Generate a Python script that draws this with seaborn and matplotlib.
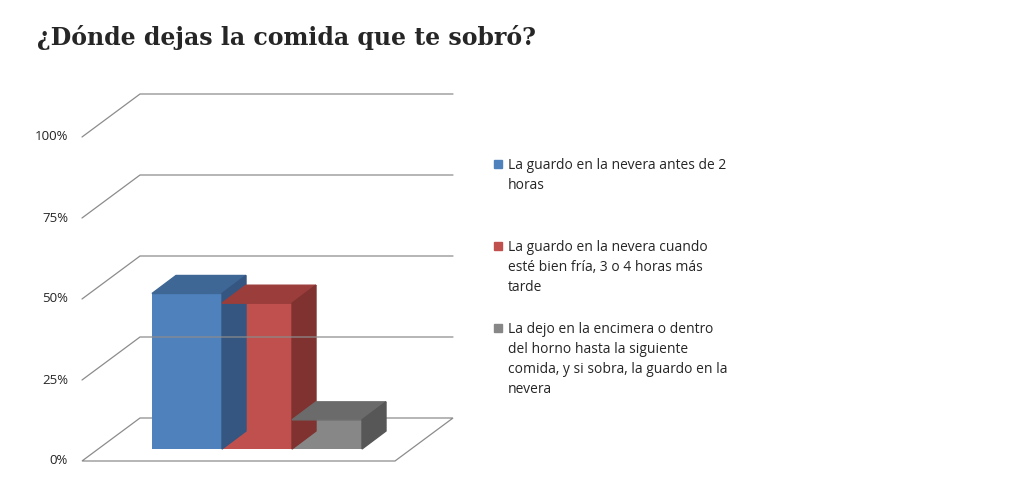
import matplotlib
matplotlib.use("Agg")
import matplotlib.pyplot as plt
import seaborn as sns
from matplotlib.patches import Polygon

title = "¿Dónde dejas la comida que te sobró?"
categories = ["La guardo en la nevera antes de 2\nhoras",
              "La guardo en la nevera cuando\nesté bien fría, 3 o 4 horas más\ntarde",
              "La dejo en la encimera o dentro\ndel horno hasta la siguiente\ncomida, y si sobra, la guardo en la\nnevera"]
values = [0.48, 0.45, 0.09]
front = ["#4f81bd", "#c0504d", "#878787"]
top = ["#3e6796", "#9b3d3b", "#6b6b6b"]
side = ["#345680", "#7f3230", "#575757"]
ticks = [0, 0.25, 0.5, 0.75, 1.0]
tick_labels = ["0%", "25%", "50%", "75%", "100%"]

sns.set_theme(style="white")
fig = plt.figure(figsize=(10.24, 4.82), dpi=100)
ax = fig.add_axes([0, 0, 1, 1])
ax.set_xlim(0, 1024)
ax.set_ylim(482, 0)
ax.axis("off")

# pixel mapping of the fake 3D frame
y0, scale = 461, 324
wx0, wx1, ddx, ddy = 82, 395, 58, -43
grid_c = "#8c8c8c"
ax.add_patch(Polygon([(wx0, y0), (wx1, y0), (wx1 + ddx, y0 + ddy), (wx0 + ddx, y0 + ddy)],
                     closed=True, fill=False, ec=grid_c, lw=0.9))
for t, lab in zip(ticks, tick_labels):
    y = y0 - t * scale
    if t > 0:
        ax.plot([wx0, wx0 + ddx, wx1 + ddx], [y, y + ddy, y + ddy], color=grid_c, lw=0.9)
    ax.text(68, y, lab, ha="right", va="center", fontsize=9.5, family="Open Sans")

# bars on a mid-depth plane
base, bx0, bw, bdx, bdy = 449, 152, 70, 24, -18
xs = [bx0 + i * bw for i in range(len(values))]
ax.bar(xs, [v * scale for v in values], width=bw, bottom=[base - v * scale for v in values],
       align="edge", color=front, edgecolor="none")
for x, v, tc, sc in zip(xs, values, top, side):
    yt = base - v * scale
    ax.add_patch(Polygon([(x, yt), (x + bw, yt), (x + bw + bdx, yt + bdy), (x + bdx, yt + bdy)], color=tc))
    ax.add_patch(Polygon([(x + bw, yt), (x + bw + bdx, yt + bdy), (x + bw + bdx, base + bdy), (x + bw, base)], color=sc))

# legend
ly = [158, 240, 322]
for y, c, lab in zip(ly, front, categories):
    ax.add_patch(plt.Rectangle((494, y + 2), 8, 8, color=c))
    ax.text(508, y, lab, va="top", ha="left", fontsize=10, family="Open Sans", linespacing=1.45)

ax.text(37, 38, title, fontsize=17, fontweight="bold", family="DejaVu Serif", va="center")
fig.savefig("out.png", dpi=100)
